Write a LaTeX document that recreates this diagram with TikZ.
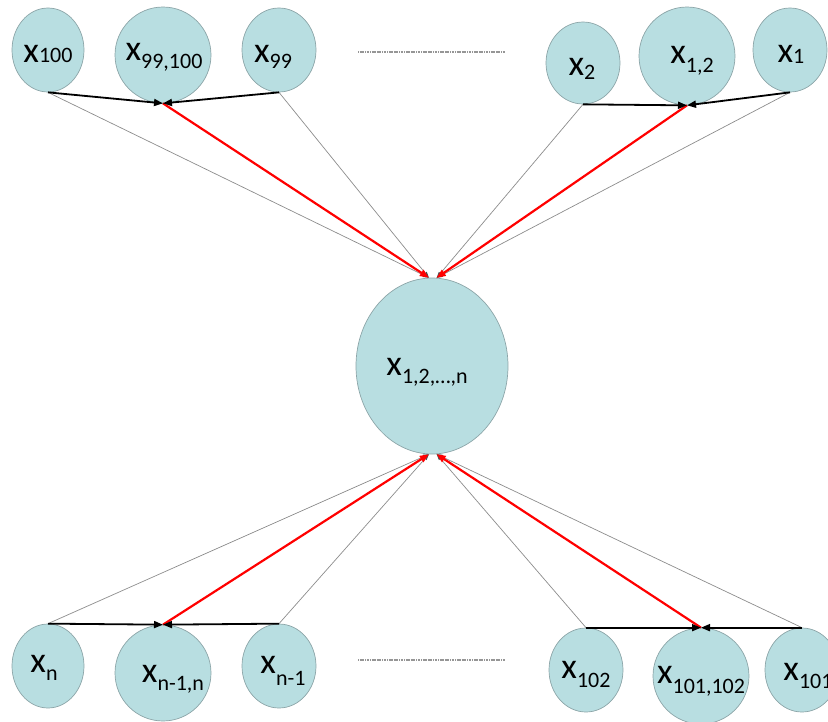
\documentclass[tikz,border=0pt]{standalone}
\usepackage{fontspec}
\setmainfont{Carlito}
\usetikzlibrary{shapes.geometric,arrows.meta}
\definecolor{nodefill}{RGB}{184,222,225}
\definecolor{nodeedge}{RGB}{140,165,168}
\definecolor{thinline}{RGB}{140,140,140}
\definecolor{dotline}{RGB}{150,150,150}
\newcommand{\xlab}[2][7pt]{\fontsize{36}{36}\selectfont x\raisebox{-#1}{\fontsize{22}{22}\selectfont #2}}
\tikzset{
  var/.style={ellipse, draw=nodeedge, line width=0.7pt, fill=nodefill, inner sep=0pt},
  lab/.style={anchor=base, inner sep=0pt, text=black},
  pairarrow/.style={line width=1.8pt, black, -{Triangle[length=9pt,width=7pt]}},
  redarrow/.style={line width=2.2pt, red, -{Triangle[length=9pt,width=7pt]}},
  greyline/.style={line width=0.7pt, thinline, -{Triangle[length=6pt,width=4pt,color=black!70]}},
  dots/.style={line width=1.3pt, dotline, dash pattern=on 1.2pt off 0.5pt}
}
\begin{document}
\begin{tikzpicture}[x=1pt,y=-1pt]
\useasboundingbox (0,0) rectangle (828,721);
\clip (0,0) rectangle (828,721);
% top row
\node[var, minimum width=72pt, minimum height=84pt] (x100) at (48,50) {};
\node[var, minimum width=96pt, minimum height=96pt] (x99100) at (163,55) {};
\node[var, minimum width=74pt, minimum height=84pt] (x99) at (279,50) {};
\node[var, minimum width=74pt, minimum height=82pt] (x2) at (583,63) {};
\node[var, minimum width=96pt, minimum height=98pt] (x12) at (687,56) {};
\node[var, minimum width=74pt, minimum height=84pt] (x1) at (790,50) {};
% centre
\node[var, minimum width=152pt, minimum height=176pt] (c) at (432,366) {};
% bottom row
\node[var, minimum width=72pt, minimum height=84pt] (xn) at (48,666) {};
\node[var, minimum width=96pt, minimum height=96pt] (xn1n) at (163,673) {};
\node[var, minimum width=74pt, minimum height=84pt] (xn1) at (279,666) {};
\node[var, minimum width=74pt, minimum height=84pt] (x102) at (586,670) {};
\node[var, minimum width=96pt, minimum height=96pt] (x101102) at (701,676) {};
\node[var, minimum width=74pt, minimum height=84pt] (x101) at (802,670) {};
% labels
\node[lab] (l100) at (48,62) {\xlab[0pt]{100}};
\node[lab] (l99100) at (164,60) {\xlab[8pt]{99,100}};
\node[lab] (l99) at (273,62) {\xlab[6pt]{99}};
\node[lab] (l2) at (582,75) {\xlab[4pt]{2}};
\node[lab] (l12) at (692,63) {\xlab[9pt]{1,2}};
\node[lab] (l1) at (791,62) {\xlab[1pt]{1}};
\node[lab] (lc) at (427,375) {\xlab[8pt]{1,2,\ldots,n}};
\node[lab] (ln) at (44,672) {\xlab[8pt]{n}};
\node[lab] (ln1n) at (173,682) {\xlab[8pt]{n-1,n}};
\node[lab] (ln1) at (283,673) {\xlab[12pt]{n-1}};
\node[lab] (l102) at (586,678) {\xlab[9pt]{102}};
\node[lab] (l101102) at (701,683) {\xlab[10pt]{101,102}};
\node[lab] (l101) at (808,680) {\xlab[8pt]{101}};
% dotted separators
\draw[dots] (358,52) -- (505,52);
\draw[dots] (358,660) -- (505,660);
% thin grey lines to centre
\draw[greyline] (x100.south) -- (c.92);
\draw[greyline] (x99.south) -- (c.92);
\draw[greyline] (x2.south) -- (c.87);
\draw[greyline] (x1.south) -- (c.87);
\draw[greyline] (xn.north) -- (c.268);
\draw[greyline] (xn1.north) -- (c.268);
\draw[greyline] (x102.north) -- (c.273);
\draw[greyline] (x101.north) -- (c.273);
% red arrows
\draw[redarrow] (x99100.south) -- (c.92);
\draw[redarrow] (x12.south) -- (c.87);
\draw[redarrow] (xn1n.north) -- (c.268);
\draw[redarrow] (x101102.north) -- (c.273);
% black pair arrows
\draw[pairarrow] (x100.south) -- (x99100.south);
\draw[pairarrow] (x99.south) -- (x99100.south);
\draw[pairarrow] (x2.south) -- (x12.south);
\draw[pairarrow] (x1.south) -- (x12.south);
\draw[pairarrow] (xn.north) -- (xn1n.north);
\draw[pairarrow] (xn1.north) -- (xn1n.north);
\draw[pairarrow] (x102.north) -- (x101102.north);
\draw[pairarrow] (x101.north) -- (x101102.north);
\end{tikzpicture}
\end{document}
